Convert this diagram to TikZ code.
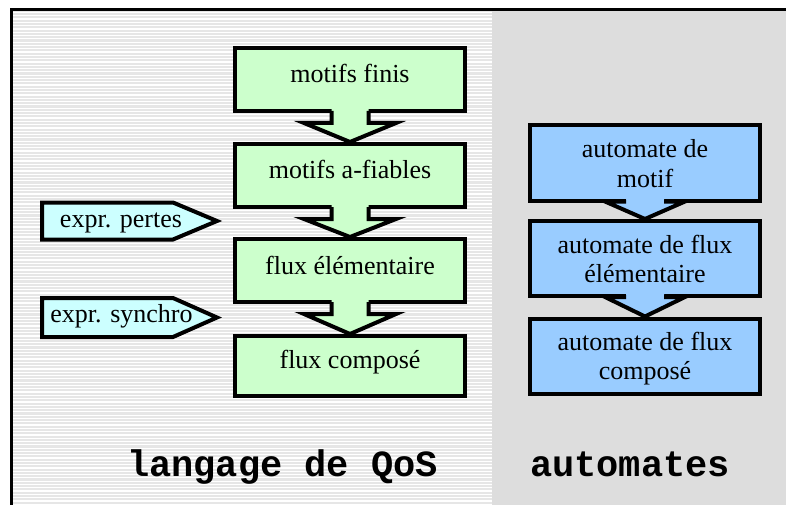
\documentclass[tikz,border=0pt]{standalone}
\usepackage{fontspec}
\setmainfont{Liberation Serif}
\newfontfamily\codefont{Liberation Mono}
\usetikzlibrary{calc}
\definecolor{gfill}{HTML}{CCFFCC}
\definecolor{bfill}{HTML}{99CCFF}
\definecolor{cfill}{HTML}{CCFFFF}
\definecolor{stripebg}{HTML}{E6E6E6}
\definecolor{rightbg}{HTML}{DDDDDD}
\tikzset{
  gbox/.style={draw=black, line width=4pt, fill=gfill, minimum width=230pt, inner sep=0pt},
  bbox/.style={draw=black, line width=4pt, fill=bfill, minimum width=230pt, minimum height=75pt, inner sep=0pt},
  txt/.style={font=\fontsize{26}{29}\selectfont, inner sep=0pt, anchor=base, align=center},
  big/.style={font=\codefont\bfseries\fontsize{37}{40}\selectfont, inner sep=0pt, anchor=base},
  outl/.style={draw=black, line width=4pt, line join=miter},
}
\begin{document}
\begin{tikzpicture}[x=1pt, y=-1pt]
\useasboundingbox (0,0) rectangle (786,505);
\clip (0,0) rectangle (786,505);
% backgrounds
\fill[white] (0,0) rectangle (786,505);
\fill[stripebg] (13,11) rectangle (492,506);
\foreach \yy in {12.5,15.8,...,505} \draw[white, line width=1.2pt] (13,\yy) -- (492,\yy);
\fill[rightbg] (492,11) rectangle (787,506);
\draw[line width=3.5pt] (11.5,510) -- (11.5,9.5) -- (790,9.5);

% green boxes
\node[gbox, minimum height=63pt] (b1) at (350,79.5) {};
\node[gbox, minimum height=63pt] (b2) at (350,175.5) {};
\node[gbox, minimum height=63pt] (b3) at (350,270.5) {};
\node[gbox, minimum height=60pt] (b4) at (350,366) {};
\node[txt] (t1) at ($(b1.center)+(0,3)$) {motifs finis};
\node[txt] (t2) at ($(b2.center)+(0,3)$) {motifs a-fiables};
\node[txt] (t3) at ($(b3.center)+(0,3.5)$) {flux élémentaire};
\node[txt] (t4) at ($(b4.center)+(0,2.5)$) {flux composé};

\foreach \a/\b in {b1/b2,b2/b3,b3/b4}{
  \fill[gfill] ($(\a.south)+(-18.5,-5)$) -- ($(\a.south)+(-18.5,10)$) -- ($(\a.south)+(-46,10)$) -- (\b.north) -- ($(\a.south)+(46,10)$) -- ($(\a.south)+(18.5,10)$) -- ($(\a.south)+(18.5,-5)$) -- cycle;
  \draw[outl] ($(\a.south)+(-18.5,-2)$) -- ($(\a.south)+(-18.5,10)$) -- ($(\a.south)+(-46,10)$) -- (\b.north) -- ($(\a.south)+(46,10)$) -- ($(\a.south)+(18.5,10)$) -- ($(\a.south)+(18.5,-2)$);
}

% blue boxes
\node[bbox] (a1) at (645,163) {};
\node[bbox] (a2) at (645,258.5) {};
\node[bbox] (a3) at (645,356) {};
\node[txt] (u1) at ($(a1.center)+(0,24)$) {automate de\\motif};
\node[txt] (u2) at ($(a2.center)+(0,24)$) {automate de flux\\élémentaire};
\node[txt] (u3) at ($(a3.center)+(0,23.5)$) {automate de flux\\composé};

\foreach \a/\b in {a1/a2,a2/a3}{
  \fill[bfill] ($(\a.south)+(-19,-5)$) -- ($(\a.south)+(-19,-2)$) -- ($(\a.south)+(-40,-2)$) -- (\b.north) -- ($(\a.south)+(40,-2)$) -- ($(\a.south)+(19,-2)$) -- ($(\a.south)+(19,-5)$) -- cycle;
  \draw[outl] ($(\a.south)+(-19,-1)$) -- ($(\a.south)+(-40,-1)$) -- (\b.north) -- ($(\a.south)+(40,-1)$) -- ($(\a.south)+(19,-1)$);
}

% input pentagons
\draw[outl, fill=cfill] (42,202.5) -- (173,202.5) -- (217,221) -- (173,239.5) -- (42,239.5) -- cycle;
\node[txt] (p1) at (121,227) {expr. pertes};
\draw[outl, fill=cfill] (42,298) -- (173,298) -- (217,317.5) -- (173,337) -- (42,337) -- cycle;
\node[txt] (p2) at (121.5,322.5) {expr. synchro};

% column labels
\node[big] (l1) at (282.5,476) {langage de QoS};
\node[big] (l2) at (630,476) {automates};
\end{tikzpicture}
\end{document}
